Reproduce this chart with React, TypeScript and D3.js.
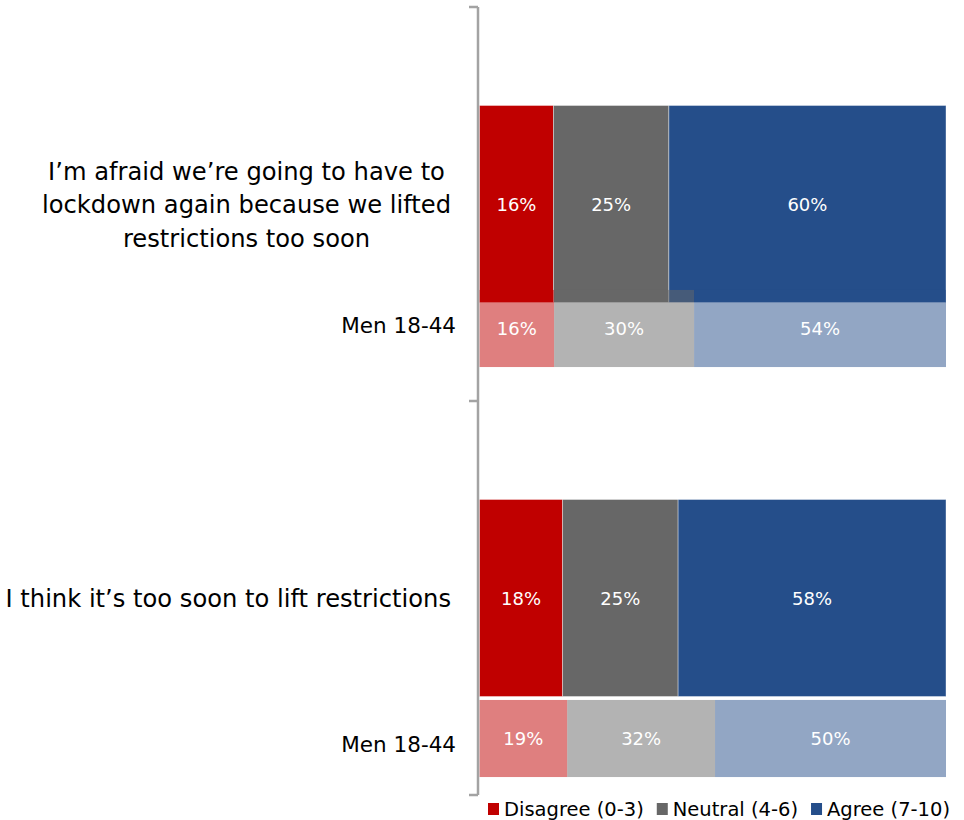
import React, { useEffect, useRef } from "react";
import * as d3 from "d3";

const questions = [
  ["I’m afraid we’re going to have to", "lockdown again because we lifted", "restrictions too soon"],
  ["I think it’s too soon to lift restrictions"],
];
const questionKeys = ["q1", "q2"];
const seriesNames = ["Disagree (0-3)", "Neutral (4-6)", "Agree (7-10)"];
const seriesKeys = ["disagree", "neutral", "agree"];
const colors = ["#C00000", "#676767", "#254E8A"];
const allValues = [
  { key: "q1", disagree: 16, neutral: 25, agree: 60 },
  { key: "q2", disagree: 18, neutral: 25, agree: 58 },
];
const menValues = [
  { key: "q1", disagree: 16, neutral: 30, agree: 54 },
  { key: "q2", disagree: 19, neutral: 32, agree: 50 },
];
const subLabel = "Men 18-44";

const W = 964;
const H = 820;
const FONT = "'DejaVu Sans', sans-serif";

export default function App() {
  const ref = useRef<SVGSVGElement | null>(null);

  useEffect(() => {
    const svg = d3.select(ref.current);
    svg.selectAll("*").remove();

    const x = d3.scaleLinear().domain([0, 1]).range([479.5, 946]);
    const yMain = d3.scaleBand<string>().domain(questionKeys).range([7, 795]).paddingInner(0.5).paddingOuter(0.25);
    const ySub = d3.scaleBand<string>().domain(questionKeys).range([123.5, 943.5]).paddingInner(0.812).paddingOuter(0.406);
    const yLab = d3.scalePoint<string>().domain(questionKeys).range([325.5, 744.5]);

    const stack = d3.stack<any>().keys(seriesKeys).offset(d3.stackOffsetExpand);
    const mainStack = stack(allValues);
    const subStack = stack(menValues);

    const drawBars = (st: any[], data: any[], y: d3.ScaleBand<string>, opacity: number, stroke: boolean) => {
      const g = svg.append("g");
      st.forEach((layer, i) => {
        layer.forEach((d: any, j: number) => {
          const k = data[j].key;
          const r = g.append("rect")
            .attr("x", x(d[0]))
            .attr("y", y(k)!)
            .attr("width", x(d[1]) - x(d[0]))
            .attr("height", y.bandwidth())
            .attr("fill", colors[i])
            .attr("fill-opacity", opacity);
          if (stroke) {
            r.attr("stroke", "#ffffff").attr("stroke-opacity", 0.5).attr("stroke-width", 0.75);
          }
        });
      });
      st.forEach((layer) => {
        layer.forEach((d: any, j: number) => {
          const k = data[j].key;
          g.append("text")
            .attr("x", (x(d[0]) + x(d[1])) / 2)
            .attr("y", y(k)! + y.bandwidth() / 2)
            .attr("text-anchor", "middle")
            .attr("dominant-baseline", "central")
            .attr("fill", "#ffffff")
            .attr("font-family", FONT)
            .attr("font-size", 18)
            .text(`${data[j][layer.key]}%`);
        });
      });
    };

    drawBars(mainStack, allValues, yMain, 1, true);
    drawBars(subStack, menValues, ySub, 0.5, false);

    // axis
    const ax = svg.append("g").attr("stroke", "#A3A3A3").attr("stroke-width", 2.5).attr("fill", "none");
    ax.append("line").attr("x1", 478).attr("x2", 478).attr("y1", 7).attr("y2", 795);
    const ticks = [yMain.range()[0], ...questionKeys.map((k) => yMain(k)! + yMain.step() * 0.5 + yMain.bandwidth() * 0.5)];
    ticks.forEach((t) => {
      ax.append("line").attr("x1", 469).attr("x2", 478).attr("y1", t).attr("y2", t);
    });

    // question labels
    questionKeys.forEach((k, qi) => {
      const lines = questions[qi];
      const lh = 33.5;
      const cy = yMain(k)! + yMain.bandwidth() / 2;
      const g = svg.append("g");
      const texts = lines.map((ln, li) =>
        g.append("text")
          .attr("y", cy + 9 + (li - (lines.length - 1) / 2) * lh)
          .attr("text-anchor", "middle")
          .attr("fill", "#000")
          .attr("font-family", FONT)
          .attr("font-size", 24.2)
          .text(ln)
      );
      const widths = texts.map((t) => (t.node() as SVGTextElement).getComputedTextLength());
      const bw = Math.max(...widths);
      texts.forEach((t) => t.attr("x", 451 - bw / 2));
    });

    // sub labels
    questionKeys.forEach((k) => {
      svg.append("text")
        .attr("x", 456)
        .attr("y", yLab(k)!)
        .attr("text-anchor", "end")
        .attr("dominant-baseline", "central")
        .attr("fill", "#000")
        .attr("font-family", FONT)
        .attr("font-size", 21.5)
        .text(subLabel);
    });

    // legend
    const lg = svg.append("g");
    let lx = 488;
    seriesNames.forEach((name, i) => {
      lg.append("rect").attr("x", lx).attr("y", 803).attr("width", 11).attr("height", 12).attr("fill", colors[i]);
      const t = lg.append("text")
        .attr("x", lx + 16)
        .attr("y", 809)
        .attr("dominant-baseline", "central")
        .attr("fill", "#000")
        .attr("font-family", FONT)
        .attr("font-size", 19.5)
        .text(name);
      lx += 16 + (t.node() as SVGTextElement).getComputedTextLength() + 13;
    });
  }, []);

  return (
    <svg
      ref={ref}
      width={W}
      height={H}
      style={{ position: "absolute", left: 0, top: 0, background: "#fff" }}
    />
  );
}
